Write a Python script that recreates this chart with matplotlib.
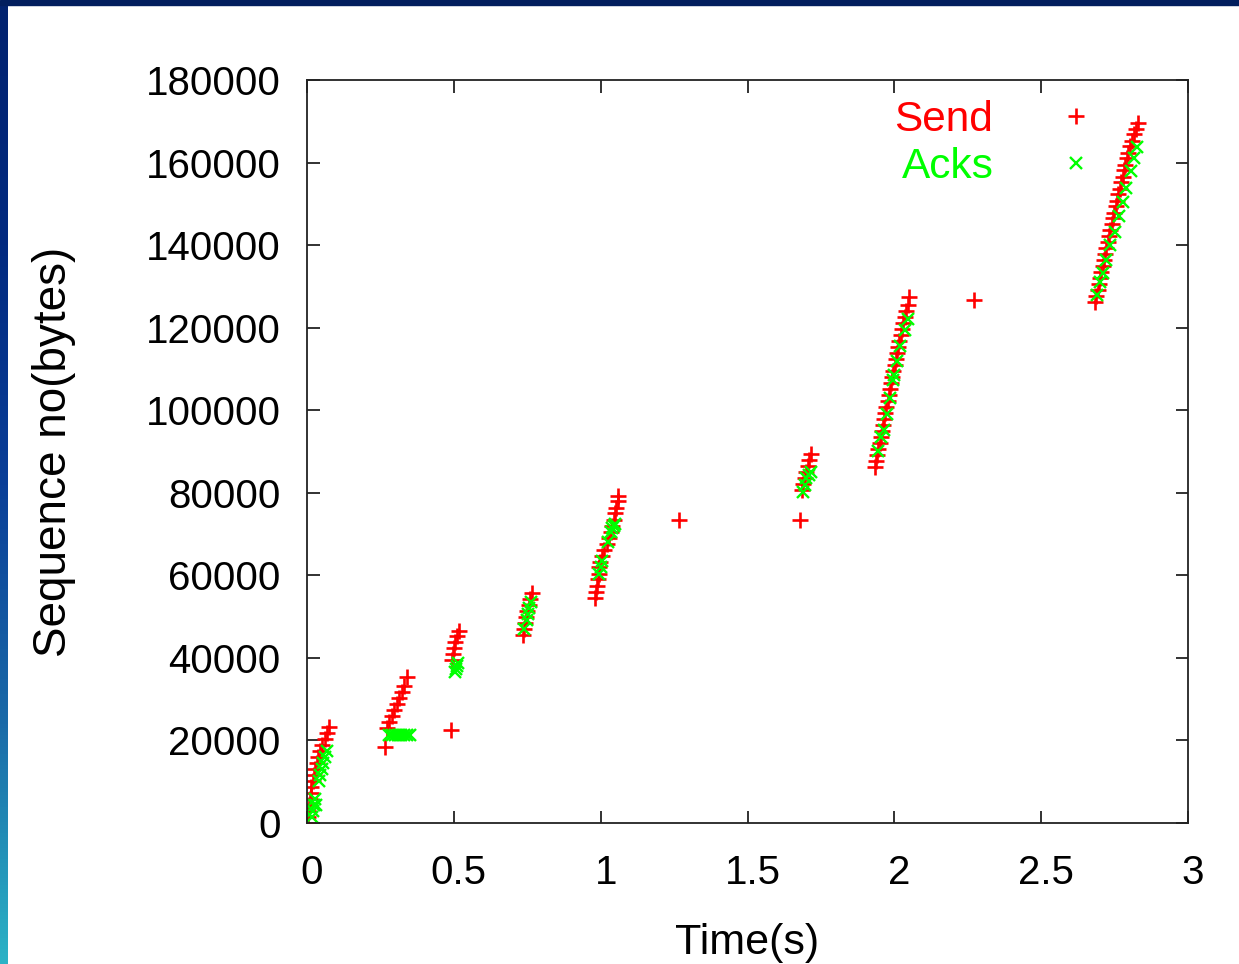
import numpy as np
import matplotlib
matplotlib.use('Agg')
import matplotlib.pyplot as plt
import matplotlib.transforms as mtransforms
from matplotlib.patches import Rectangle

plt.rcParams['font.family'] = ['Liberation Sans', 'DejaVu Sans']

# Segmentos enviados (tiempo en s, numero de secuencia en bytes)
send_t = [
    # rafaga 1
    0.000, 0.002, 0.004, 0.006, 0.009, 0.012, 0.015, 0.019, 0.023, 0.028,
    0.033, 0.039, 0.045, 0.052, 0.060, 0.068, 0.076,
    # rafaga 2
    0.266, 0.272, 0.280, 0.289, 0.297, 0.305, 0.313, 0.322, 0.331, 0.340,
    # rafaga 3
    0.490, 0.495, 0.498, 0.502, 0.505, 0.510, 0.518,
    # rafaga 4
    0.735, 0.738, 0.742, 0.746, 0.750, 0.755, 0.760, 0.765,
    # rafaga 5
    0.980, 0.985, 0.988, 0.990, 0.993, 0.995, 0.998, 1.005, 1.010, 1.020,
    1.030, 1.035, 1.040, 1.045, 1.050, 1.052, 1.058, 1.060,
    1.267, 1.680,
    # rafaga 6
    1.686, 1.690, 1.695, 1.700, 1.705, 1.710, 1.715,
    # rafaga 7
    1.934, 1.938, 1.942, 1.946, 1.950, 1.953, 1.957, 1.961, 1.965, 1.969,
    1.973, 1.977, 1.981, 1.985, 1.989, 1.993, 1.997, 2.001, 2.005, 2.009,
    2.013, 2.017, 2.021, 2.025, 2.030, 2.035, 2.040, 2.045, 2.050,
    2.270,
    # rafaga 8
    2.683, 2.688, 2.692, 2.697, 2.700, 2.705, 2.709, 2.713, 2.718, 2.722,
    2.727, 2.731, 2.736, 2.740, 2.745, 2.749, 2.754, 2.758, 2.763, 2.767,
    2.772, 2.777, 2.782, 2.787, 2.792, 2.797, 2.803, 2.810, 2.817, 2.824,
    2.830,
]
send_seq = [
    0, 1460, 2920, 4380, 5840, 7300, 8760, 10220, 11680, 13140,
    14600, 16060, 17520, 18980, 20440, 21900, 23360,
    18300, 23000, 24500, 26000, 27400, 28900, 30300, 31800, 33200, 35300,
    22600, 39400, 40900, 42300, 43800, 45200, 46500,
    45600, 47000, 48500, 49900, 51400, 52800, 54300, 55700,
    54600, 56000, 57500, 59000, 60400, 61900, 63300, 64800, 66200, 67700,
    69100, 70600, 72000, 73500, 75000, 76400, 77900, 79300,
    73400, 73400,
    80700, 82200, 83600, 85100, 86500, 88000, 89400,
    86300, 87800, 89200, 90700, 92100, 93600, 95000, 96500, 97900, 99400,
    100800, 102300, 103700, 105200, 106600, 108100, 109500, 111000, 112400, 113900,
    115300, 116800, 118200, 119700, 121100, 122600, 124000, 125500, 127400,
    126700,
    126200, 127600, 129100, 130500, 132000, 133400, 134900, 136300, 137800, 139200,
    140700, 142100, 143600, 145000, 146500, 147900, 149400, 150800, 152300, 153700,
    155200, 156600, 158100, 159500, 161000, 162400, 163900, 165300, 166800, 168200,
    169600,
]

# ACKs recibidos
ack_t = [
    0.018, 0.021, 0.024, 0.027, 0.030, 0.040, 0.044, 0.050, 0.056, 0.062, 0.068,
    0.280, 0.290, 0.300, 0.310, 0.320, 0.330, 0.340, 0.350,
    0.505, 0.508, 0.512, 0.515,
    0.740, 0.748, 0.752, 0.757, 0.762,
    0.995, 1.000, 1.005, 1.025, 1.035, 1.040, 1.045, 1.050,
    1.688, 1.695, 1.700, 1.708, 1.715,
    1.945, 1.955, 1.965, 1.975, 1.985, 1.995, 2.000, 2.010, 2.020, 2.035, 2.046,
    2.690, 2.700, 2.710, 2.720, 2.735, 2.750, 2.765, 2.780, 2.790, 2.805, 2.815, 2.826,
]
ack_seq = [
    1460, 2920, 4380, 5840, 4380, 10220, 11680, 13140, 14600, 16060, 17520,
    21300, 21300, 21300, 21300, 21300, 21300, 21300, 21300,
    36500, 37300, 38000, 38700,
    47000, 49200, 50600, 52000, 53500,
    60400, 62000, 63500, 68000, 70500, 71500, 72000, 72500,
    80300, 82000, 83500, 84300, 85000,
    90000, 93500, 95200, 99000, 103000, 107300, 108500, 112000, 115500, 119500, 122000,
    128000, 131000, 133300, 136500, 140000, 143200, 147000, 150500, 153900, 158000, 161000, 163800,
]

x_ticks = [0, 0.5, 1, 1.5, 2, 2.5, 3]
x_labels = ['0', '0.5', '1', '1.5', '2', '2.5', '3']
y_ticks = [0, 20000, 40000, 60000, 80000, 100000, 120000, 140000, 160000, 180000]

W, H = 1239, 964
fig = plt.figure(figsize=(W / 100, H / 100), dpi=100)
fig.patch.set_facecolor('white')

# marco de la diapositiva
fig.patches.append(Rectangle((0, 1 - 5 / H), 1, 5 / H, transform=fig.transFigure,
                             color='#021f5e', zorder=0))
band = fig.add_axes([0, 0, 8 / W, 1 - 5 / H])
grad = np.linspace(0, 1, 256).reshape(-1, 1)
cmap = matplotlib.colors.LinearSegmentedColormap.from_list(
    'borde', ['#2bb3c6', '#1a6aa8', '#0a3f98', '#022a80', '#02236f'])
band.imshow(grad, aspect='auto', cmap=cmap, origin='lower')
band.axis('off')

ax = fig.add_axes([307 / W, 1 - 823 / H, (1188 - 307) / W, (823 - 80) / H])

ax.plot(send_t, send_seq, linestyle='none', marker='+', color='#ff0000',
        markersize=11, markeredgewidth=1.9, label='Send')
ax.plot(ack_t, ack_seq, linestyle='none', marker='x', color='#00ff00',
        markersize=9, markeredgewidth=1.7, label='Acks')

ax.set_xlim(0, 3)
ax.set_ylim(0, 180000)
ax.set_xticks(x_ticks)
ax.set_xticklabels(x_labels)
ax.set_yticks(y_ticks)
ax.set_yticklabels([str(v) for v in y_ticks])

ax.tick_params(direction='in', length=9, width=1.3, color='#222222',
               top=True, right=True, labelsize=29, labelcolor='black')
ax.tick_params(axis='y', pad=19)
ax.tick_params(axis='x', pad=22)
# las etiquetas del eje x van un poco a la derecha, como en gnuplot
shift = mtransforms.ScaledTranslation(5 / 100, 0, fig.dpi_scale_trans)
for lab in ax.get_xticklabels():
    lab.set_transform(lab.get_transform() + shift)
for s in ax.spines.values():
    s.set_linewidth(1.3)
    s.set_color('#222222')

ax.set_xlabel('Time(s)', fontsize=31)
ax.set_ylabel('Sequence no(bytes)', fontsize=33)
ax.xaxis.set_label_coords(0.5, -0.135)
ax.yaxis.set_label_coords(-0.262, 0.5)

leg = ax.legend(loc='upper right', bbox_to_anchor=(0.897, 0.973), frameon=False,
                markerfirst=False, fontsize=30.5, handlelength=1.0,
                handletextpad=1.45, labelspacing=0.17, borderpad=0,
                borderaxespad=0, labelcolor='linecolor')

fig.savefig('out.png', dpi=100)
